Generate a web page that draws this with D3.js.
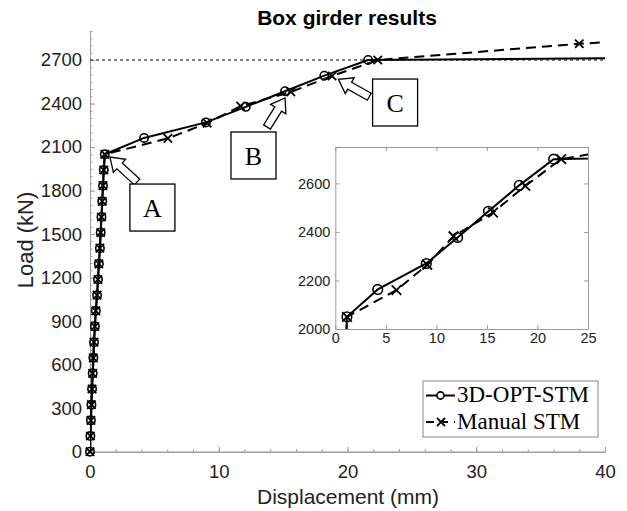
<!DOCTYPE html>
<html>
<head>
<meta charset="utf-8">
<script src="https://cdn.jsdelivr.net/npm/d3@7"></script>
<style>
    body { margin: 0; background: #fff; }
    svg { display: block; }
</style>
</head>
<body>
<svg id="svg-chart" width="627" height="511"></svg>
<script>
// elastic branch, both models lie on it
const elasticDisp = [0, 0.03, 0.07, 0.11, 0.16, 0.21, 0.26, 0.31, 0.38, 0.45, 0.55, 0.62, 0.69, 0.77, 0.83, 0.89, 0.95, 1.01, 1.07, 1.15];
const elasticLoad = [0, 108, 216, 324, 432, 540, 647, 755, 863, 971, 1079, 1187, 1295, 1403, 1511, 1618, 1726, 1834, 1942, 2050];
// 3D-OPT-STM after point A
const optDisp = [4.2, 9.0, 12.1, 15.15, 18.2, 21.6, 40];
const optLoad = [2163, 2270, 2377, 2485, 2592, 2700, 2712];
// Manual STM after point A
const manDisp = [6.05, 9.1, 11.7, 15.6, 18.8, 22.35, 38.0, 40];
const manLoad = [2160, 2265, 2382, 2480, 2590, 2700, 2812, 2822];
const capacityLoad = 2700;
const seriesNames = ['3D-OPT-STM', 'Manual STM'];

const mainXTicks = [0, 10, 20, 30, 40];
const mainYTicks = [0, 300, 600, 900, 1200, 1500, 1800, 2100, 2400, 2700];
const insetXTicks = [0, 5, 10, 15, 20, 25];
const insetYTicks = [2000, 2200, 2400, 2600];

// A / B / C call-outs (data units)
const noteLabels = ['A', 'B', 'C'];
const noteBoxAt = [[3.1, 1845], [10.95, 2204], [21.95, 2569]];
const noteTip = [[1.55, 2031], [15.15, 2438], [19.29, 2567]];
const noteTail = [[3.65, 1859], [13.75, 2238], [21.69, 2447]];

const sansFont = '"Liberation Sans", Arial, Helvetica, sans-serif';
const serifFont = '"Liberation Serif", "Times New Roman", serif';
const axisGray = '#9a9a9a';
const plainNum = d3.format('d');

let svg = d3.select('#svg-chart');

let optPts = d3.zip(elasticDisp.concat(optDisp), elasticLoad.concat(optLoad));
let manPts = d3.zip(elasticDisp.concat(manDisp), elasticLoad.concat(manLoad));

// 画 x 形 marker
function cross_path(cx, cy, s) {
    return 'M' + (cx - s) + ',' + (cy - s) + 'L' + (cx + s) + ',' + (cy + s) +
        'M' + (cx - s) + ',' + (cy + s) + 'L' + (cx + s) + ',' + (cy - s);
}

// 空心 箭头
function arrow_path(tip, tail, shaftW, headW, headL) {
    let dx = tip[0] - tail[0], dy = tip[1] - tail[1];
    let len = Math.sqrt(dx * dx + dy * dy);
    let ux = dx / len, uy = dy / len, nx = -uy, ny = ux;
    let neck = [tip[0] - ux * headL, tip[1] - uy * headL];
    let p = [
        [tail[0] + nx * shaftW / 2, tail[1] + ny * shaftW / 2],
        [neck[0] + nx * shaftW / 2, neck[1] + ny * shaftW / 2],
        [neck[0] + nx * headW / 2, neck[1] + ny * headW / 2],
        tip,
        [neck[0] - nx * headW / 2, neck[1] - ny * headW / 2],
        [neck[0] - nx * shaftW / 2, neck[1] - ny * shaftW / 2],
        [tail[0] - nx * shaftW / 2, tail[1] - ny * shaftW / 2]
    ];
    return 'M' + p.map(function (d) { return d[0] + ',' + d[1]; }).join('L') + 'Z';
}

function draw_series(g, xScale, yScale, clipId, markSize) {
    let line = d3.line()
        .x(function (d) { return xScale(d[0]); })
        .y(function (d) { return yScale(d[1]); });
    let xd = xScale.domain(), yd = yScale.domain();
    // no marker on points outside or on the right edge
    let inside = function (d) {
        return d[0] >= xd[0] && d[0] < xd[1] && d[1] >= yd[0] && d[1] <= yd[1];
    };
    let gLines = g.append('g').attr('clip-path', 'url(#' + clipId + ')');
    gLines.append('path')
        .attr('d', line(optPts))
        .attr('fill', 'none')
        .attr('stroke', '#000')
        .attr('stroke-width', 2);
    gLines.append('path')
        .attr('d', line(manPts))
        .attr('fill', 'none')
        .attr('stroke', '#000')
        .attr('stroke-width', 2)
        .attr('stroke-dasharray', '10,6');
    g.selectAll('.opt-mark')
        .data(optPts.filter(inside))
        .enter()
        .append('circle')
        .attr('class', 'opt-mark')
        .attr('cx', function (d) { return xScale(d[0]); })
        .attr('cy', function (d) { return yScale(d[1]); })
        .attr('r', markSize)
        .attr('fill', 'none')
        .attr('stroke', '#000')
        .attr('stroke-width', 1.6);
    g.selectAll('.man-mark')
        .data(manPts.filter(inside))
        .enter()
        .append('path')
        .attr('class', 'man-mark')
        .attr('d', function (d) { return cross_path(xScale(d[0]), yScale(d[1]), markSize); })
        .attr('stroke', '#000')
        .attr('stroke-width', 1.8);
}

function draw_main_plot() {
    let x = d3.scaleLinear().domain([0, 40]).range([90, 605]),
        y = d3.scaleLinear().domain([0, 2900]).range([451.7, 31]);
    let g = svg.append('g').attr('id', 'g-main');

    svg.append('clipPath').attr('id', 'clip-main')
        .append('rect')
        .attr('x', x(0)).attr('y', y(2900))
        .attr('width', x(40) - x(0)).attr('height', y(0) - y(2900));

    // 坐标轴
    g.append('g')
        .attr('transform', 'translate(0,' + y(0) + ')')
        .call(d3.axisBottom(x).tickValues(mainXTicks).tickFormat(plainNum)
            .tickSize(-5).tickSizeOuter(0).tickPadding(13));
    g.append('g')
        .attr('transform', 'translate(0,' + y(0) + ')')
        .call(d3.axisBottom(x).tickValues(d3.range(0, 41, 2)).tickSize(-2.5).tickSizeOuter(0).tickFormat(''));
    g.append('g')
        .attr('transform', 'translate(' + x(0) + ',0)')
        .call(d3.axisLeft(y).tickValues(mainYTicks).tickFormat(plainNum)
            .tickSize(-5).tickSizeOuter(0).tickPadding(8));
    g.append('g')
        .attr('transform', 'translate(' + x(0) + ',0)')
        .call(d3.axisLeft(y).tickValues(d3.range(0, 2901, 50)).tickSize(-2.5).tickSizeOuter(0).tickFormat(''));
    g.selectAll('.domain, .tick line').attr('stroke', axisGray).attr('stroke-width', 1);
    g.selectAll('.tick text')
        .attr('fill', '#222')
        .style('font-family', sansFont)
        .style('font-size', '18.5px');

    // 2700 kN 虚线
    g.append('line')
        .attr('x1', x(0)).attr('x2', x(40))
        .attr('y1', y(capacityLoad)).attr('y2', y(capacityLoad))
        .attr('stroke', '#000')
        .attr('stroke-width', 1)
        .attr('stroke-dasharray', '3,3');

    draw_series(g, x, y, 'clip-main', 4.2);

    // 标注 A B C
    for (let i = 0; i < noteLabels.length; i++) {
        let bx = x(noteBoxAt[i][0]), by = y(noteBoxAt[i][1]);
        g.append('path')
            .attr('d', arrow_path([x(noteTip[i][0]), y(noteTip[i][1])],
                [x(noteTail[i][0]), y(noteTail[i][1])], 8, 18, 13))
            .attr('fill', '#fff')
            .attr('stroke', '#000')
            .attr('stroke-width', 1.3);
        g.append('rect')
            .attr('x', bx).attr('y', by)
            .attr('width', 45).attr('height', 47)
            .attr('fill', '#fff')
            .attr('stroke', '#000')
            .attr('stroke-width', 1.3);
        g.append('text')
            .attr('x', bx + 22.5).attr('y', by + 33)
            .attr('text-anchor', 'middle')
            .style('font-family', serifFont)
            .style('font-size', '26px')
            .text(noteLabels[i]);
    }

    // 标题 和 轴标签
    svg.append('text')
        .attr('x', 347).attr('y', 25)
        .attr('text-anchor', 'middle')
        .style('font-family', sansFont)
        .style('font-size', '21px')
        .style('font-weight', 'bold')
        .text('Box girder results');
    svg.append('text')
        .attr('x', 348).attr('y', 504)
        .attr('text-anchor', 'middle')
        .attr('fill', '#222')
        .style('font-family', sansFont)
        .style('font-size', '21px')
        .text('Displacement (mm)');
    svg.append('text')
        .attr('transform', 'translate(' + 33 + ',' + 240 + ') rotate(-90)')
        .attr('text-anchor', 'middle')
        .attr('fill', '#222')
        .style('font-family', sansFont)
        .style('font-size', '22px')
        .text('Load (kN)');
}

function draw_inset() {
    let x = d3.scaleLinear().domain([0, 25]).range([335.3, 588]),
        y = d3.scaleLinear().domain([2000, 2750]).range([329, 147]);
    let g = svg.append('g').attr('id', 'g-inset');

    svg.append('clipPath').attr('id', 'clip-inset')
        .append('rect')
        .attr('x', x(0)).attr('y', y(2750))
        .attr('width', x(25) - x(0)).attr('height', y(2000) - y(2750));

    g.append('rect')
        .attr('x', x(0)).attr('y', y(2750))
        .attr('width', x(25) - x(0)).attr('height', y(2000) - y(2750))
        .attr('fill', '#fff');

    g.append('g')
        .attr('transform', 'translate(0,' + y(2000) + ')')
        .call(d3.axisBottom(x).tickValues(insetXTicks).tickFormat(plainNum)
            .tickSize(-4).tickSizeOuter(0).tickPadding(4));
    g.append('g')
        .attr('transform', 'translate(0,' + y(2750) + ')')
        .call(d3.axisTop(x).tickValues(insetXTicks).tickSize(-4).tickSizeOuter(0).tickFormat(''));
    g.append('g')
        .attr('transform', 'translate(' + x(0) + ',0)')
        .call(d3.axisLeft(y).tickValues(insetYTicks).tickFormat(plainNum)
            .tickSize(-4).tickSizeOuter(0).tickPadding(5));
    g.append('g')
        .attr('transform', 'translate(' + x(25) + ',0)')
        .call(d3.axisRight(y).tickValues(insetYTicks).tickSize(-4).tickSizeOuter(0).tickFormat(''));
    g.selectAll('.domain, .tick line').attr('stroke', axisGray).attr('stroke-width', 1);
    g.selectAll('.tick text')
        .attr('fill', '#222')
        .style('font-family', sansFont)
        .style('font-size', '14.5px');

    draw_series(g, x, y, 'clip-inset', 4.8);
}

function draw_legend() {
    let gLeg = svg.append('g')
        .attr('transform', 'translate(' + 423 + ',' + 381 + ')');
    gLeg.append('rect')
        .attr('width', 175).attr('height', 56)
        .attr('fill', '#fff')
        .attr('stroke', '#888')
        .attr('stroke-width', 1);
    for (let i = 0; i < seriesNames.length; i++) {
        let ly = 14.5 + i * 26.5;
        let ln = gLeg.append('line')
            .attr('x1', 3).attr('x2', 32)
            .attr('y1', ly).attr('y2', ly)
            .attr('stroke', '#000')
            .attr('stroke-width', 2);
        if (i === 0) {
            gLeg.append('circle')
                .attr('cx', 17.5).attr('cy', ly).attr('r', 3.6)
                .attr('fill', '#fff')
                .attr('stroke', '#000')
                .attr('stroke-width', 1.6);
        } else {
            ln.attr('stroke-dasharray', '8,6');
            gLeg.append('path')
                .attr('d', cross_path(18, ly, 4))
                .attr('stroke', '#000')
                .attr('stroke-width', 1.8);
        }
        gLeg.append('text')
            .attr('x', 34).attr('y', ly + 6.5)
            .style('font-family', serifFont)
            .style('font-size', '23px')
            .text(seriesNames[i]);
    }
}

draw_main_plot();
draw_inset();
draw_legend();
</script>
</body>
</html>
